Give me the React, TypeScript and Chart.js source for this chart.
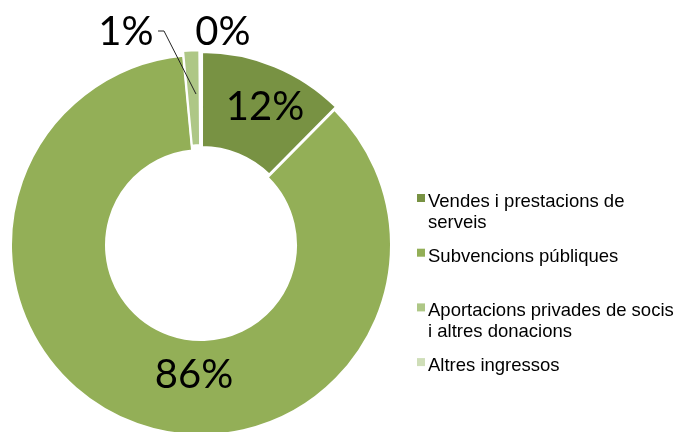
import React, { useEffect, useRef } from "react";
import { Chart, registerables } from "chart.js";

Chart.register(...registerables);

const categories: string[] = [
  "Vendes i prestacions de\nserveis",
  "Subvencions públiques",
  "Aportacions privades de socis\ni altres donacions",
  "Altres ingressos",
];
const shares: number[] = [12.4, 86.1, 1.4, 0.1];
const percentLabels: string[] = ["12%", "86%", "1%", "0%"];
const sliceColors: string[] = ["#789243", "#93AF57", "#AEC786", "#CFDEB8"];
const explode: number[] = [10, 0, 10, 10];

// label anchors relative to the doughnut centre (layout only)
const labelOffsets: [number, number][] = [
  [64, -125],
  [-7, 143],
  [-75, -200],
  [22, -200],
];

const overlayPlugin = {
  id: "overlay",
  afterDraw(chart: any) {
    const ctx: CanvasRenderingContext2D = chart.ctx;
    const meta = chart.getDatasetMeta(0);
    const arc0 = meta.data[0];
    const cx = arc0.x;
    const cy = arc0.y;
    ctx.save();
    // percentage labels
    ctx.fillStyle = "#000";
    ctx.font = "40px Lato";
    ctx.textAlign = "center";
    ctx.textBaseline = "alphabetic";
    percentLabels.forEach((t, i) => {
      const [dx, dy] = labelOffsets[i];
      ctx.fillText(t, cx + dx, cy + dy);
    });
    // leader line for the 1% label
    ctx.strokeStyle = "#222";
    ctx.lineWidth = 1;
    ctx.beginPath();
    ctx.moveTo(cx - 43, cy - 214);
    ctx.lineTo(cx - 37, cy - 214);
    ctx.lineTo(cx - 5, cy - 151);
    ctx.stroke();

    // legend
    ctx.font = "18.5px 'Liberation Sans', Arial, sans-serif";
    ctx.textAlign = "left";
    const boxX = 417;
    const textX = 428;
    const firstBaseline = 207;
    const itemStep = 54.7;
    const lineStep = 21;
    categories.forEach((label, i) => {
      const base = firstBaseline + i * itemStep;
      ctx.fillStyle = sliceColors[i];
      ctx.fillRect(boxX, base - 13, 8, 8);
      ctx.fillStyle = "#000";
      label.split("\n").forEach((line, j) => {
        ctx.fillText(line, textX, base + j * lineStep);
      });
    });
    ctx.restore();
  },
};

export default function App() {
  const ref = useRef<HTMLCanvasElement | null>(null);
  useEffect(() => {
    if (!ref.current) return;
    const chart = new Chart(ref.current, {
      type: "doughnut",
      data: {
        labels: categories,
        datasets: [
          {
            data: shares,
            backgroundColor: sliceColors,
            borderColor: "#ffffff",
            borderWidth: 2,
            offset: explode,
            hoverOffset: 0,
          },
        ],
      },
      options: {
        responsive: false,
        animation: false,
        cutout: "50%",
        layout: { padding: { left: 5, right: 280, top: 49, bottom: 0 } },
        plugins: {
          legend: { display: false },
          tooltip: { enabled: false },
        },
      },
      plugins: [overlayPlugin],
    });
    return () => chart.destroy();
  }, []);
  return (
    <div style={{ position: "fixed", left: 0, top: 0, width: 677, height: 441, background: "#fff" }}>
      <canvas ref={ref} width={677} height={441} style={{ width: 677, height: 441 }} />
    </div>
  );
}
